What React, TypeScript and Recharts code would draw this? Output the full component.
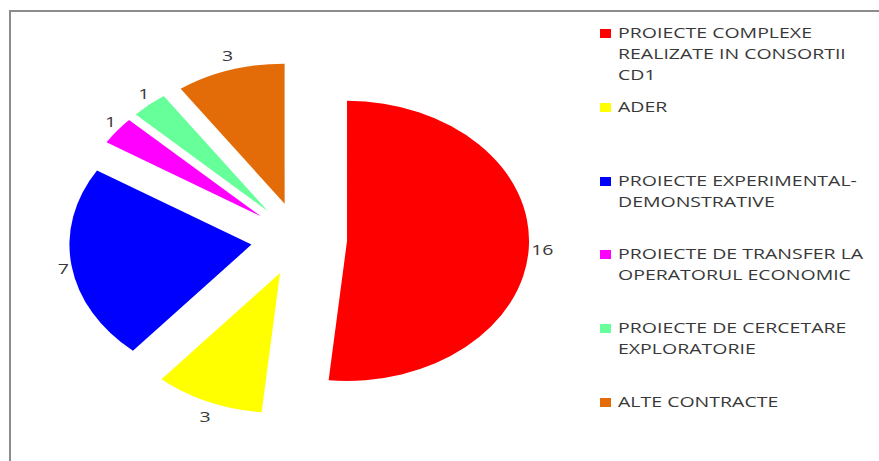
import React from 'react';
import { Legend, Pie, PieChart } from 'recharts';

const names = [
  'PROIECTE COMPLEXE REALIZATE IN CONSORTII CD1',
  'ADER',
  'PROIECTE EXPERIMENTAL-DEMONSTRATIVE',
  'PROIECTE DE TRANSFER LA OPERATORUL ECONOMIC',
  'PROIECTE DE CERCETARE EXPLORATORIE',
  'ALTE CONTRACTE',
];
const legendLines = [
  ['PROIECTE COMPLEXE', 'REALIZATE IN CONSORTII', 'CD1'],
  ['ADER'],
  ['PROIECTE EXPERIMENTAL-', 'DEMONSTRATIVE'],
  ['PROIECTE DE TRANSFER LA', 'OPERATORUL ECONOMIC'],
  ['PROIECTE DE CERCETARE', 'EXPLORATORIE'],
  ['ALTE CONTRACTE'],
];
const values = [16, 3, 7, 1, 1, 3];
const colors = ['#FF0000', '#FFFF00', '#0000FF', '#FF00FF', '#66FF99', '#E36C09'];

const data = names.map((name, i) => ({ name, value: values[i], fill: colors[i] }));

const FONT = '"Open Sans", "DejaVu Sans", sans-serif';
const TEXT = '#383838';
// the original picture is stretched sideways: pie is an ellipse, text is wide
const SX = 1.3;
const EXPLODE = 37;
const RAD = Math.PI / 180;

function explodedCenter(cx: number, cy: number, mid: number) {
  return [cx + EXPLODE * SX * Math.cos(-mid * RAD), cy + EXPLODE * Math.sin(-mid * RAD)];
}

function EllipseSector(props: any) {
  const { cx, cy, outerRadius, startAngle, endAngle, midAngle, fill } = props;
  const [ox, oy] = explodedCenter(cx, cy, midAngle);
  const pt = (a: number) => [
    ox + outerRadius * SX * Math.cos(-a * RAD),
    oy + outerRadius * Math.sin(-a * RAD),
  ];
  const [x1, y1] = pt(startAngle);
  const [x2, y2] = pt(endAngle);
  const large = Math.abs(endAngle - startAngle) > 180 ? 1 : 0;
  const sweep = startAngle > endAngle ? 1 : 0;
  const d = `M${ox},${oy} L${x1},${y1} A${outerRadius * SX},${outerRadius} 0 ${large} ${sweep} ${x2},${y2} Z`;
  return <path d={d} fill={fill} stroke="none" />;
}

function renderLabel(props: any) {
  const { cx, cy, outerRadius, midAngle, value } = props;
  const [ox, oy] = explodedCenter(cx, cy, midAngle);
  const c = Math.cos(-midAngle * RAD);
  const s = Math.sin(-midAngle * RAD);
  // half the label width, so wide labels sit further out sideways
  const hw = String(value).length * 5.25;
  const x = ox + outerRadius * SX * c + (3 + hw) * c;
  const y = oy + outerRadius * s + 16 * s;
  return (
    <text
      x={0}
      y={0}
      transform={`translate(${x},${y}) scale(${SX},1)`}
      textAnchor="middle"
      dominantBaseline="central"
      fill={TEXT}
      fontSize={15}
      fontFamily={FONT}
    >
      {value}
    </text>
  );
}

function LegendContent() {
  return (
    <div style={{ fontFamily: FONT, fontSize: 15, color: TEXT, lineHeight: '21px' }}>
      {legendLines.map((lines, i) => (
        <div key={i} style={{ position: 'absolute', top: i * 73.8, left: 0, whiteSpace: 'nowrap' }}>
          <span
            style={{ position: 'absolute', left: 0, top: 7, width: 11, height: 9, background: colors[i] }}
          />
          <div style={{ marginLeft: 18, transform: `scaleX(${SX})`, transformOrigin: 'left top' }}>
            {lines.map((l) => (
              <div key={l}>{l}</div>
            ))}
          </div>
        </div>
      ))}
    </div>
  );
}

export default function App() {
  return (
    <div style={{ position: 'absolute', left: 0, top: 0, width: 879, height: 461, background: '#fff', overflow: 'hidden' }}>
      <div
        style={{
          position: 'absolute',
          left: 9,
          top: 10,
          right: 0,
          bottom: 0,
          borderTop: '2px solid #8c8c8c',
          borderLeft: '2px solid #8c8c8c',
        }}
      />
      <PieChart width={879} height={461} style={{ position: 'absolute', left: 0, top: 0 }}>
        <Pie
          data={data}
          dataKey="value"
          nameKey="name"
          cx={294}
          cy={234}
          outerRadius={140}
          startAngle={90}
          endAngle={-270}
          shape={EllipseSector}
          label={renderLabel}
          labelLine={false}
          isAnimationActive={false}
        />
        <Legend
          layout="vertical"
          align="right"
          verticalAlign="top"
          content={<LegendContent />}
          wrapperStyle={{ left: 600, top: 22, width: 279, height: 420 }}
        />
      </PieChart>
    </div>
  );
}
